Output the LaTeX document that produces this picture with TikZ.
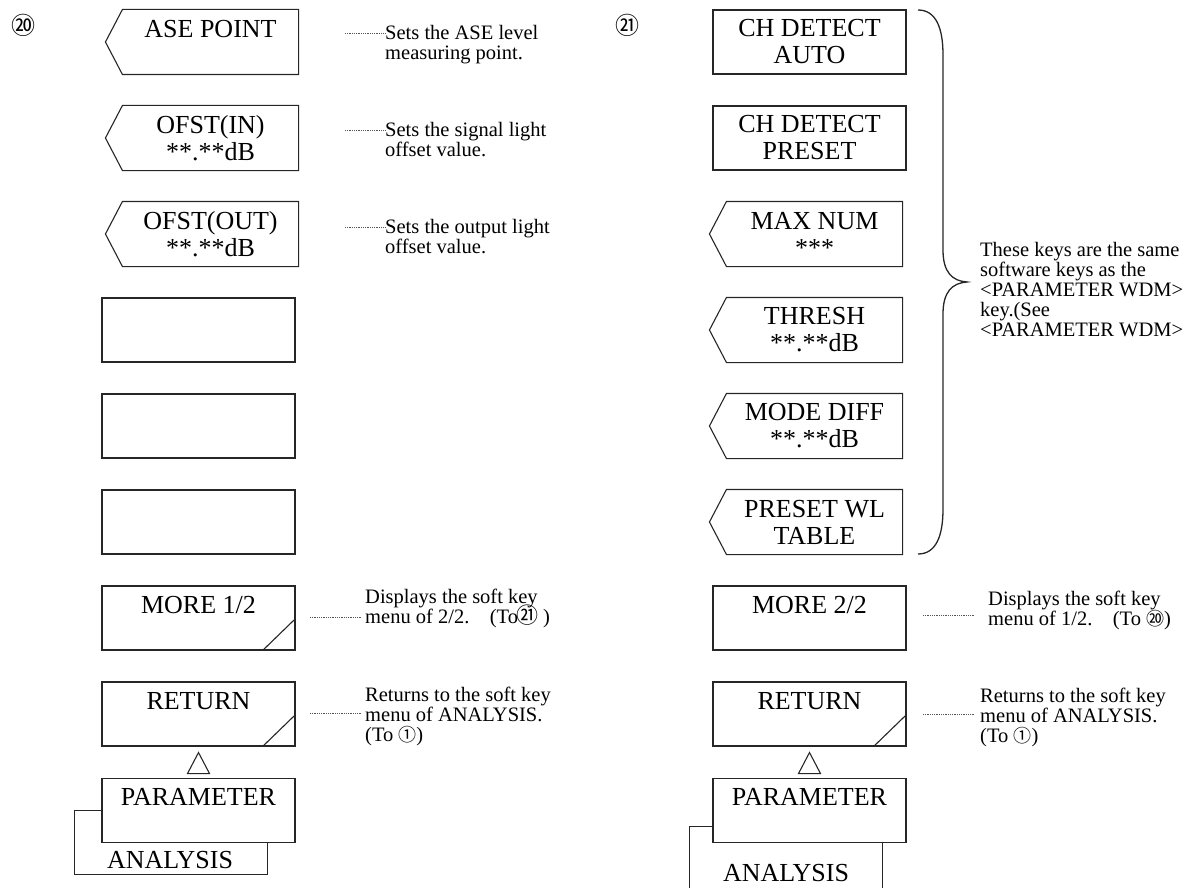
\documentclass[tikz,border=0pt]{standalone}
\usepackage{fontspec}
\setmainfont{Liberation Serif}
\newfontfamily\cjk{Noto Sans CJK JP}
\usetikzlibrary{positioning, calc}
\definecolor{keyline}{HTML}{262626}
\definecolor{leadergray}{HTML}{555555}
\newcommand{\keyfont}{\fontsize{26}{27}\selectfont}
\newcommand{\descfont}{\fontsize{20.5}{20}\selectfont\lineskiplimit=-20pt}
\newcommand{\encirc}[1]{{\cjk\fontsize{18}{18}\selectfont #1}}
\tikzset{
    softkey/.style={
        rectangle, draw=keyline, line width=1.1pt, minimum width=193pt, minimum height=64pt,
        inner sep=0pt, align=center, font=\keyfont, fill=white
    },
    pointkey/.style={
        softkey, draw=none, fill=none, minimum width=175pt
    },
    keyedge/.style={
        draw=keyline, line width=1.1pt
    },
    leader/.style={
        draw=leadergray, line width=0.8pt, dash pattern=on 0.9pt off 0.9pt
    },
    desc/.style={
        anchor=north west, inner sep=0pt, align=left, font=\descfont
    },
    circnum/.style={
        inner sep=0pt, font=\cjk\fontsize{24}{24}\selectfont
    }
}
\newcommand{\keytip}[1]{%
    \draw[keyedge] (#1.north west) -- (#1.north east) -- (#1.south east)
        -- (#1.south west) -- ([xshift=-17pt]#1.west) -- cycle;}
\newcommand{\keycorner}[1]{%
    \draw[keyedge] ([xshift=-33pt]#1.south east) -- ([yshift=32pt]#1.south east);}

\begin{document}
\begin{tikzpicture}[x=1pt, y=-1pt]
    \useasboundingbox (0,0) rectangle (1191,888);
    \clip (0,0) rectangle (1191,888);

    % soft key menu 20
    \node[circnum]  (m20)    at (24,25)      {⑳};
    \node[pointkey] (ase)    at (210.5,42)   {ASE POINT\\\mbox{}};
    \node[pointkey] (ofsin)  at (210.5,138)  {OFST(IN)\\**.**dB};
    \node[pointkey] (ofsout) at (210.5,234)  {OFST(OUT)\\**.**dB};
    \node[softkey]  (blankA) at (198.5,330)  {};
    \node[softkey]  (blankB) at (198.5,426)  {};
    \node[softkey]  (blankC) at (198.5,522)  {};
    \node[softkey]  (more1)  at (198.5,618)  {MORE 1/2\\\mbox{}};
    \node[softkey]  (ret1)   at (198.5,714)  {RETURN\\\mbox{}};
    \keytip{ase} \keytip{ofsin} \keytip{ofsout}
    \keycorner{more1} \keycorner{ret1}

    \node[softkey, anchor=north west] (anl1) at (74,810) {};
    \node[anchor=base, font=\keyfont] (anl1txt) at (170,868) {ANALYSIS};
    \node[softkey, anchor=north] (par1) at (198.5,778) {PARAMETER\\\mbox{}};
    \draw[keyedge] ([yshift=-6pt]ret1.south) -- ++(-11,21) -- ++(22,0) -- cycle;

    \node[desc] (aseinfo)    at (385,25)  {Sets the ASE level\\measuring point.};
    \node[desc] (ofsininfo)  at (385,122) {Sets the signal light\\offset value.};
    \node[desc] (ofsoutinfo) at (385,219) {Sets the output light\\offset value.};
    \node[desc] (more1info)  at (365,589) {Displays the soft key\\menu of 2/2.\hspace{1em}(To\kern-2pt{\cjk\fontsize{22}{20}\selectfont ㉑}\ )};
    \node[desc] (ret1info)   at (365,687) {Returns to the soft key\\menu of ANALYSIS.\\(To \encirc{①})};

    \coordinate (aseL)    at (345,33);
    \coordinate (ofsinL)  at (345,130);
    \coordinate (ofsoutL) at (345,227);
    \coordinate (more1L)  at (310,617);
    \coordinate (ret1L)   at (310,713);
    \draw[leader] (aseL)    -- (aseL -| aseinfo.west);
    \draw[leader] (ofsinL)  -- (ofsinL -| ofsininfo.west);
    \draw[leader] (ofsoutL) -- (ofsoutL -| ofsoutinfo.west);
    \draw[leader, shorten >=3pt] (more1L) -- (more1L -| more1info.west);
    \draw[leader, shorten >=3pt] (ret1L)  -- (ret1L -| ret1info.west);

    % soft key menu 21
    \node[circnum]  (m21)    at (627,25)     {㉑};
    \node[softkey]  (chauto) at (809.5,42)   {CH DETECT\\AUTO};
    \node[softkey]  (chpre)  at (809.5,138)  {CH DETECT\\PRESET};
    \node[pointkey] (maxnum) at (814.5,234)  {MAX NUM\\***};
    \node[pointkey] (thresh) at (814.5,330)  {THRESH\\**.**dB};
    \node[pointkey] (mdiff)  at (814.5,426)  {MODE DIFF\\**.**dB};
    \node[pointkey] (prewl)  at (814.5,522)  {PRESET WL\\TABLE};
    \node[softkey]  (more2)  at (809.5,618)  {MORE 2/2\\\mbox{}};
    \node[softkey]  (ret2)   at (809.5,714)  {RETURN\\\mbox{}};
    \keytip{maxnum} \keytip{thresh} \keytip{mdiff} \keytip{prewl}
    \keycorner{ret2}

    \node[softkey, anchor=north west, minimum height=70pt] (anl2) at (689,826) {};
    \node[anchor=base, font=\keyfont] (anl2txt) at (786,881) {ANALYSIS};
    \node[softkey, anchor=north] (par2) at (809.5,778) {PARAMETER\\\mbox{}};
    \draw[keyedge] ([yshift=-6pt]ret2.south) -- ++(-11,21) -- ++(22,0) -- cycle;

    % brace over the six keys
    \coordinate (brtop) at (918,10);
    \coordinate (brtip) at (967,282);
    \coordinate (brbot) at (918,554);
    \draw[keyedge, line width=1.3pt] (brtop) .. controls (936,10) and (943,28) .. (943,55)
        -- (943,250) .. controls (943,272) and (952,281) .. (brtip)
        .. controls (952,283) and (943,292) .. (943,314)
        -- (943,509) .. controls (943,536) and (936,554) .. (brbot);

    \node[desc] (keysinfo)  at (980,242) {These keys are the same\\software keys as the\\<PARAMETER WDM>\\key.(See\\<PARAMETER WDM>};
    \node[desc] (more2info) at (988,591) {Displays the soft key\\menu of 1/2.\hspace{1em}(To \encirc{⑳})};
    \node[desc] (ret2info)  at (980,688) {Returns to the soft key\\menu of ANALYSIS.\\(To \encirc{①})};

    \coordinate (more2L) at (923,615);
    \coordinate (ret2L)  at (923,714);
    \draw[leader, shorten >=13pt] (more2L) -- (more2L -| more2info.west);
    \draw[leader, shorten >=5pt]  (ret2L)  -- (ret2L -| ret2info.west);

\end{tikzpicture}
\end{document}
